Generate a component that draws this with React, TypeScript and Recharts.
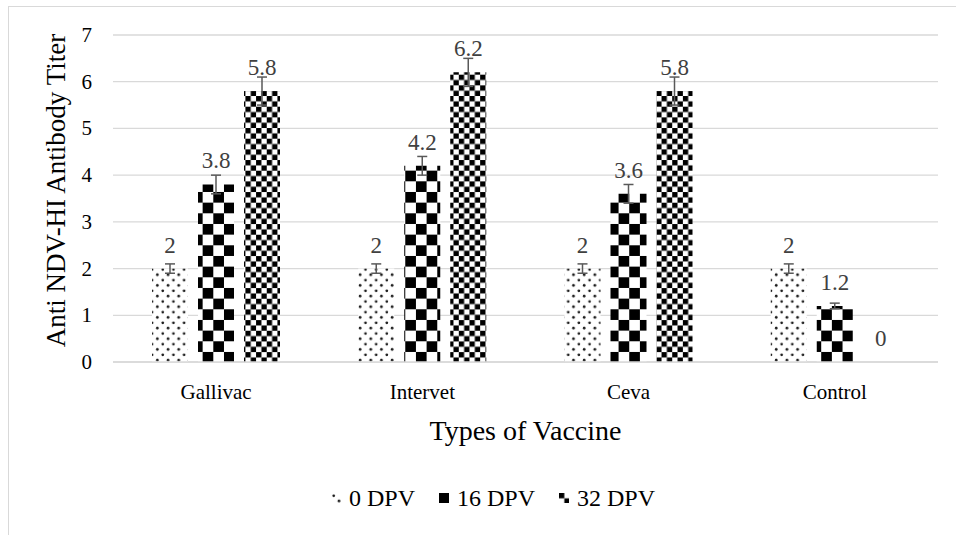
import React from 'react'
import { BarChart, Bar, XAxis, YAxis, CartesianGrid, ErrorBar, LabelList, Label, Legend } from 'recharts'

const FONT = '"Liberation Serif", "Times New Roman", serif'

const vaccines = ['Gallivac', 'Intervet', 'Ceva', 'Control']
const dpv0 = [2, 2, 2, 2]
const dpv16 = [3.8, 4.2, 3.6, 1.2]
const dpv32 = [5.8, 6.2, 5.8, 0]
const err0 = [0.1, 0.1, 0.1, 0.1]
const err16 = [0.2, 0.2, 0.2, 0.06]
const err32 = [0.3, 0.3, 0.3, 0]
const yTicks = [0, 1, 2, 3, 4, 5, 6, 7]

const series = [
  { key: 'd0', err: 'e0', name: '0 DPV', fill: 'url(#dots)' },
  { key: 'd16', err: 'e16', name: '16 DPV', fill: 'url(#bigChecker)' },
  { key: 'd32', err: 'e32', name: '32 DPV', fill: 'url(#smallChecker)' },
]

const data = vaccines.map((name, i) => ({
  name,
  d0: dpv0[i],
  d16: dpv16[i],
  d32: dpv32[i],
  e0: err0[i],
  e16: err16[i],
  e32: err32[i],
}))

const XTick = ({ x, y, payload }: any) => (
  <text x={x} y={y} dy={16} textAnchor="middle" fontSize={21} fontFamily={FONT} fill="#000">
    {payload.value}
  </text>
)

const YTick = ({ x, y, payload }: any) => (
  <text x={x} y={y} dy={7} textAnchor="end" fontSize={21} fontFamily={FONT} fill="#000">
    {payload.value}
  </text>
)

const renderLegend = () => (
  <div
    style={{
      display: 'flex',
      justifyContent: 'center',
      alignItems: 'center',
      height: 40,
      paddingLeft: 48,
      fontFamily: FONT,
      fontSize: 24,
      color: '#000',
    }}
  >
    {series.map((s, i) => (
      <div key={s.key} style={{ display: 'flex', alignItems: 'center', marginLeft: i ? 24 : 0 }}>
        <svg width={10} height={10} style={{ marginRight: 8 }}>
          <rect width={10} height={10} fill={s.fill} />
        </svg>
        <span>{s.name}</span>
      </div>
    ))}
  </div>
)

export default function App() {
  return (
    <div style={{ position: 'fixed', inset: 0, overflow: 'hidden', background: '#fff', fontFamily: FONT }}>
      {/* chart area border, only the left and top edges are in view */}
      <div
        style={{
          position: 'absolute',
          left: 8,
          top: 6,
          width: 1000,
          height: 600,
          border: '1px solid #d9d9d9',
        }}
      />
      <div style={{ position: 'absolute', left: 0, top: 0 }}>
        <BarChart
          width={956}
          height={535}
          data={data}
          margin={{ top: 35, right: 18, left: 0, bottom: 17 }}
          barSize={36}
          barGap={10}
          style={{ fontFamily: FONT }}
        >
          <defs>
            <pattern id="dots" width={10.67} height={10.67} patternUnits="userSpaceOnUse">
              <rect width={10.67} height={10.67} fill="#fff" />
              <circle cx={2.7} cy={2.7} r={1.35} fill="#1a1a1a" />
              <circle cx={8} cy={8} r={1.35} fill="#1a1a1a" />
            </pattern>
            <pattern id="bigChecker" width={21.33} height={21.33} patternUnits="userSpaceOnUse">
              <rect width={21.33} height={21.33} fill="#fff" />
              <rect width={10.67} height={10.67} fill="#000" />
              <rect x={10.67} y={10.67} width={10.67} height={10.67} fill="#000" />
            </pattern>
            <pattern id="smallChecker" width={10.67} height={10.67} patternUnits="userSpaceOnUse">
              <rect width={10.67} height={10.67} fill="#fff" />
              <rect width={5.33} height={5.33} fill="#000" />
              <rect x={5.33} y={5.33} width={5.33} height={5.33} fill="#000" />
            </pattern>
          </defs>
          <CartesianGrid vertical={false} stroke="#d9d9d9" strokeWidth={1.3} />
          <XAxis
            dataKey="name"
            height={116}
            axisLine={{ stroke: '#d9d9d9', strokeWidth: 1.3 }}
            tickLine={false}
            tickSize={0}
            tickMargin={21}
            tick={<XTick />}
          >
            <Label
              content={({ viewBox }: any) => (
                <text
                  x={viewBox.x + viewBox.width / 2}
                  y={viewBox.y + 78}
                  textAnchor="middle"
                  fontSize={28}
                  fontFamily={FONT}
                  fill="#000"
                >
                  Types of Vaccine
                </text>
              )}
            />
          </XAxis>
          <YAxis
            width={113}
            domain={[0, 7]}
            ticks={yTicks}
            axisLine={false}
            tickLine={false}
            tickSize={0}
            tickMargin={21}
            tick={<YTick />}
          >
            <Label
              content={({ viewBox }: any) => {
                const cx = 65
                const cy = viewBox.y + viewBox.height / 2 - 8
                return (
                  <text
                    x={cx}
                    y={cy}
                    transform={`rotate(-90, ${cx}, ${cy})`}
                    textAnchor="middle"
                    fontSize={27}
                    fontFamily={FONT}
                    fill="#000"
                  >
                    Anti NDV-HI Antibody Titer
                  </text>
                )
              }}
            />
          </YAxis>
          <Legend verticalAlign="bottom" height={40} content={renderLegend} />
          {series.map((s) => (
            <Bar
              key={s.key}
              dataKey={s.key}
              name={s.name}
              fill={s.fill}
              minPointSize={0.05}
              isAnimationActive={false}
            >
              <ErrorBar
                dataKey={s.err}
                direction="y"
                width={5}
                stroke="#595959"
                strokeWidth={1.5}
                isAnimationActive={false}
              />
              <LabelList
                dataKey={s.key}
                position="top"
                offset={16}
                fill="#404040"
                fontSize={23}
                fontFamily={FONT}
              />
            </Bar>
          ))}
        </BarChart>
      </div>
    </div>
  )
}
